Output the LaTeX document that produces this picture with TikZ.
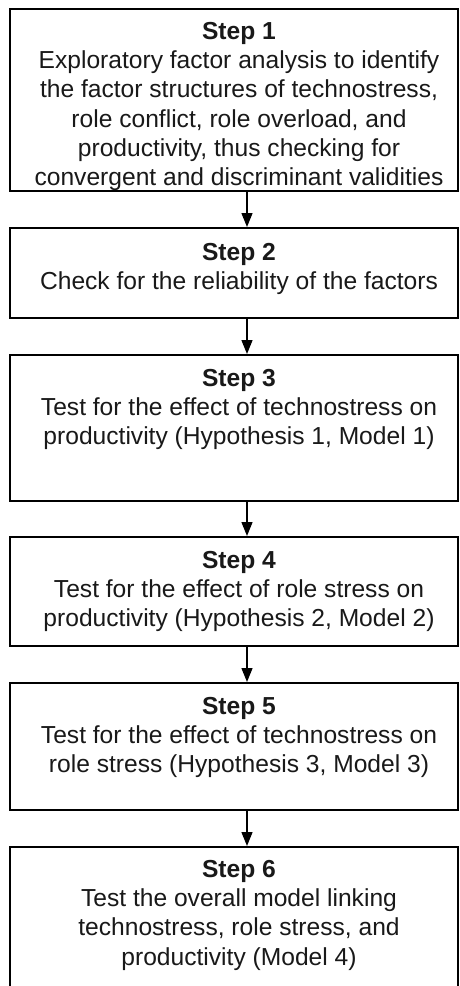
\documentclass[tikz,border=0pt]{standalone}
\usepackage{fontspec}
\setmainfont{Liberation Sans}
\usetikzlibrary{arrows.meta}
\begin{document}
\begin{tikzpicture}[x=1pt,y=-1pt,
  stepbox/.style={draw=black, line width=1.6pt, minimum width=448pt, inner sep=0pt, anchor=north},
  steptext/.style={anchor=north, align=center, inner sep=0pt, font=\fontsize{24.6}{29.3}\selectfont, text=black!90},
  flow/.style={line width=1.4pt, -{Triangle[width=11pt,length=14pt]}}]
\clip (0,0) rectangle (460,986);
\fill[white] (0,0) rectangle (460,986);
\coordinate (ax) at (247,0);

% process boxes, top to bottom
\node[stepbox, minimum height=182pt] (s1) at (234,8) {};
\node[stepbox, minimum height=90pt]  (s2) at (234,227) {};
\node[stepbox, minimum height=146pt] (s3) at (234,354) {};
\node[stepbox, minimum height=109pt] (s4) at (234,536) {};
\node[stepbox, minimum height=127pt] (s5) at (234,682) {};
\node[stepbox, minimum height=160pt] (s6) at (234,846) {};

% box texts
\node[steptext] (t1) at (239,22) {\textbf{Step 1}\\Exploratory factor analysis to identify\\the factor structures of technostress,\\role conflict, role overload, and\\productivity, thus checking for\\convergent and discriminant validities};
\node[steptext] (t2) at (239,243) {\textbf{Step 2}\\Check for the reliability of the factors};
\node[steptext] (t3) at (239,369) {\textbf{Step 3}\\Test for the effect of technostress on\\productivity (Hypothesis 1, Model 1)};
\node[steptext] (t4) at (239,551) {\textbf{Step 4}\\Test for the effect of role stress on\\productivity (Hypothesis 2, Model 2)};
\node[steptext] (t5) at (239,697) {\textbf{Step 5}\\Test for the effect of technostress on\\role stress (Hypothesis 3, Model 3)};
\node[steptext] (t6) at (239,860) {\textbf{Step 6}\\Test the overall model linking\\technostress, role stress, and\\productivity (Model 4)};

% connectors
\draw[flow] (s1.south -| ax) -- (s2.north -| ax);
\draw[flow] (s2.south -| ax) -- (s3.north -| ax);
\draw[flow] (s3.south -| ax) -- (s4.north -| ax);
\draw[flow] (s4.south -| ax) -- (s5.north -| ax);
\draw[flow] (s5.south -| ax) -- (s6.north -| ax);
\end{tikzpicture}
\end{document}
